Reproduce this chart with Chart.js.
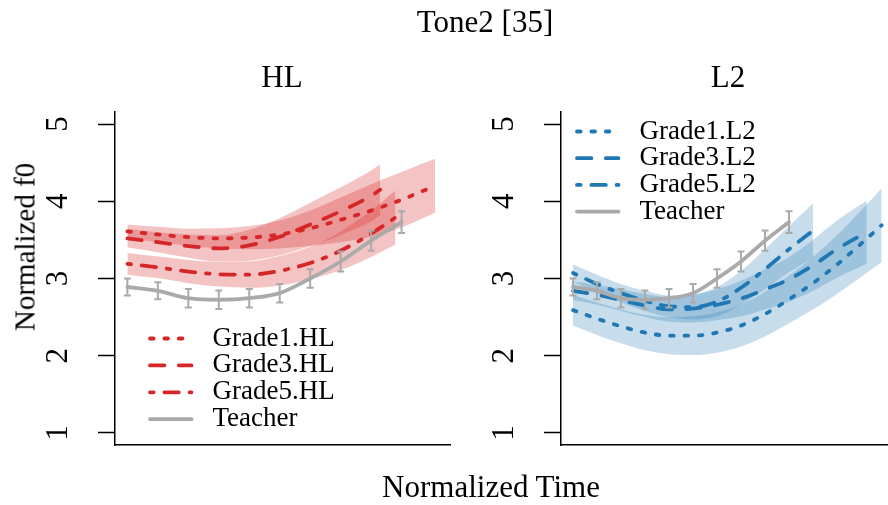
<!DOCTYPE html>
<html>
<head>
    <title>Tone2 [35]</title>
    <script src="https://cdn.jsdelivr.net/npm/chart.js"></script>
    <style>
        body { margin: 0; background: #fff; overflow: hidden; }
        #page { position: relative; width: 888px; height: 505px; font-family: "Liberation Serif", serif; color: #000; }
        canvas { position: absolute; top: 0; }
        #hlChart { left: 0; }
        #l2Chart { left: 455px; }
        .txt { position: absolute; white-space: nowrap; transform: translateX(-50%); }
        .big { font-size: 31px; line-height: 31px; }
        #mainTitle { left: 485px; top: 6px; }
        #hlTitle { left: 282px; top: 61px; }
        #l2Title { left: 728px; top: 61px; }
        #xTitle { left: 491px; top: 471px; }
        #yTitle { left: 25px; top: 247px; font-size: 29px; line-height: 29px; transform: translate(-50%, -50%) rotate(-90deg); }
    </style>
</head>
<body>
<div id="page">
    <canvas id="hlChart" width="455" height="505"></canvas>
    <canvas id="l2Chart" width="433" height="505"></canvas>
    <div id="mainTitle" class="txt big">Tone2 [35]</div>
    <div id="hlTitle" class="txt big">HL</div>
    <div id="l2Title" class="txt big">L2</div>
    <div id="xTitle" class="txt big">Normalized Time</div>
    <div id="yTitle" class="txt">Normalized f0</div>
</div>

<script>
    // y axis ticks (shared)
    const yTicks = [1, 2, 3, 4, 5];

    // Teacher contour (same in both panels), with standard errors
    const teacherTime = [1, 2, 3, 4, 5, 6, 7, 8, 9, 10];
    const teacherF0 = [2.89, 2.84, 2.745, 2.725, 2.745, 2.81, 3.00, 3.22, 3.49, 3.73];
    const teacherSe = [0.11, 0.11, 0.12, 0.12, 0.12, 0.12, 0.12, 0.13, 0.13, 0.14];

    // HL panel
    const hlG1Time = [1, 2, 3, 4, 5, 6, 7, 8, 9, 10, 11.1];
    const hlG1F0 = [3.61, 3.57, 3.535, 3.52, 3.53, 3.57, 3.65, 3.76, 3.88, 4.02, 4.20];
    const hlG1Se = [0.09, 0.10, 0.11, 0.13, 0.15, 0.18, 0.23, 0.29, 0.34, 0.36, 0.35];

    const hlG3Time = [1, 2, 3, 4, 5, 6, 7, 8, 9, 9.3];
    const hlG3F0 = [3.52, 3.47, 3.42, 3.39, 3.43, 3.54, 3.70, 3.87, 4.07, 4.15];
    const hlG3Se = [0.12, 0.13, 0.15, 0.17, 0.20, 0.24, 0.28, 0.31, 0.33, 0.33];

    const hlG5Time = [1, 2, 3, 4, 5, 6, 7, 8, 9, 9.8];
    const hlG5F0 = [3.19, 3.145, 3.09, 3.055, 3.05, 3.10, 3.20, 3.36, 3.58, 3.79];
    const hlG5Se = [0.14, 0.14, 0.15, 0.16, 0.17, 0.19, 0.21, 0.25, 0.30, 0.35];

    // L2 panel
    const l2G1Time = [1, 2, 3, 4, 5, 6, 7, 8, 9, 10, 11, 12, 13, 13.86];
    const l2G1F0 = [2.59, 2.48, 2.38, 2.30, 2.26, 2.26, 2.30, 2.39, 2.54, 2.73, 2.94, 3.18, 3.45, 3.69];
    const l2G1Se = [0.20, 0.21, 0.22, 0.23, 0.24, 0.25, 0.26, 0.27, 0.29, 0.31, 0.34, 0.38, 0.43, 0.48];

    const l2G3Time = [1, 2, 3, 4, 5, 6, 7, 8, 9, 10, 11, 12, 13.24];
    const l2G3F0 = [2.84, 2.79, 2.72, 2.65, 2.60, 2.61, 2.66, 2.74, 2.86, 2.99, 3.17, 3.38, 3.60];
    const l2G3Se = [0.12, 0.13, 0.14, 0.15, 0.16, 0.18, 0.20, 0.23, 0.26, 0.29, 0.33, 0.37, 0.41];

    const l2G5Time = [1, 2, 3, 4, 5, 6, 7, 8, 9, 10, 11];
    const l2G5F0 = [3.07, 2.93, 2.81, 2.71, 2.64, 2.63, 2.70, 2.88, 3.12, 3.38, 3.62];
    const l2G5Se = [0.11, 0.12, 0.12, 0.13, 0.14, 0.16, 0.19, 0.22, 0.26, 0.30, 0.35];

    const RED = '#d62728', RED_BAND = 'rgba(214,39,40,0.28)';
    const BLUE = '#1f77b4', BLUE_BAND = 'rgba(31,119,180,0.25)';
    const GREY = '#aaaaaa';
    const LW = 3.8;
    const U = 3.6; // R dash unit
    const DOTTED = [U, 3 * U], DASHED = [4 * U, 4 * U], DOTDASH = [U, 3 * U, 4 * U, 3 * U];

    Chart.defaults.font.family = '"Liberation Serif"';

    function pts(time, vals) {
        return time.map((t, i) => ({ x: t, y: vals[i] }));
    }

    function studentSets(time, f0, se, label, color, band, dash) {
        const hi = f0.map((v, i) => v + se[i]);
        const lo = f0.map((v, i) => v - se[i]);
        const common = { pointRadius: 0, cubicInterpolationMode: 'monotone' };
        return {
            bands: [
                { ...common, data: pts(time, hi), borderWidth: 0, borderColor: 'rgba(0,0,0,0)', fill: false, order: 2 },
                { ...common, data: pts(time, lo), borderWidth: 0, borderColor: 'rgba(0,0,0,0)', backgroundColor: band, fill: '-1', order: 2 }
            ],
            line: { ...common, label: label, data: pts(time, f0), borderColor: color, borderWidth: LW,
                    borderDash: dash, borderCapStyle: 'round', fill: false, order: 1, inLegend: true }
        };
    }

    function teacherSet() {
        return { label: 'Teacher', data: pts(teacherTime, teacherF0), borderColor: GREY, borderWidth: LW,
                 pointRadius: 0, cubicInterpolationMode: 'monotone', borderCapStyle: 'round',
                 fill: false, order: 0, inLegend: true, errorBars: teacherSe };
    }

    const errorBarPlugin = {
        id: 'errorBars',
        afterDatasetsDraw(chart) {
            const { ctx, scales: { x, y } } = chart;
            chart.data.datasets.forEach(ds => {
                if (!ds.errorBars) return;
                ctx.save();
                ctx.strokeStyle = ds.borderColor;
                ctx.lineWidth = 2;
                ds.data.forEach((p, i) => {
                    const px = x.getPixelForValue(p.x);
                    const top = y.getPixelForValue(p.y + ds.errorBars[i]);
                    const bot = y.getPixelForValue(p.y - ds.errorBars[i]);
                    ctx.beginPath();
                    ctx.moveTo(px, top); ctx.lineTo(px, bot);
                    ctx.moveTo(px - 3.5, top); ctx.lineTo(px + 3.5, top);
                    ctx.moveTo(px - 3.5, bot); ctx.lineTo(px + 3.5, bot);
                    ctx.stroke();
                });
                ctx.restore();
            });
        }
    };

    // R-style legend: line sample + label, no box
    const lineLegendPlugin = {
        id: 'lineLegend',
        afterDraw(chart, args, opts) {
            const ctx = chart.ctx;
            const items = chart.data.datasets.filter(ds => ds.inLegend);
            ctx.save();
            ctx.font = opts.fontSize + 'px "Liberation Serif"';
            ctx.textBaseline = 'middle';
            ctx.fillStyle = '#000';
            items.forEach((ds, i) => {
                const yy = opts.top + i * opts.rowStep;
                ctx.setLineDash(ds.borderDash || []);
                ctx.lineCap = 'round';
                ctx.lineWidth = ds.borderWidth;
                ctx.strokeStyle = ds.borderColor;
                ctx.beginPath();
                ctx.moveTo(opts.lineStart, yy);
                ctx.lineTo(opts.lineEnd, yy);
                ctx.stroke();
                ctx.setLineDash([]);
                ctx.fillText(ds.label, opts.textStart, yy);
            });
            ctx.restore();
        }
    };

    function makePanel(canvasId, series, xMin, xMax, axisWidth, padRight, legend) {
        const datasets = [];
        series.forEach(s => datasets.push(...s.bands));
        series.forEach(s => datasets.push(s.line));
        datasets.push(teacherSet());

        new Chart(document.getElementById(canvasId), {
            type: 'line',
            data: { datasets: datasets },
            options: {
                responsive: false,
                animation: false,
                devicePixelRatio: 1,
                layout: { padding: { top: 112, bottom: 60, left: 0, right: padRight } },
                scales: {
                    x: {
                        type: 'linear', min: xMin, max: xMax,
                        ticks: { display: false },
                        grid: { display: false },
                        border: { display: true, color: '#000', width: 1.5 },
                        afterFit: s => { s.height = 0; }
                    },
                    y: {
                        type: 'linear', min: 0.844, max: 5.156,
                        afterBuildTicks: s => { s.ticks = yTicks.map(v => ({ value: v })); },
                        ticks: { color: '#000', font: { size: 31 }, minRotation: 90, maxRotation: 90,
                                 crossAlign: 'center', padding: 31 },
                        grid: { display: true, drawOnChartArea: false, tickLength: 17, tickColor: '#000', tickWidth: 1.5 },
                        border: { display: true, color: '#000', width: 1.5 },
                        afterFit: s => { s.width = axisWidth; }
                    }
                },
                plugins: {
                    legend: { display: false },
                    tooltip: { enabled: false },
                    title: { display: false },
                    filler: { propagate: false },
                    lineLegend: legend
                }
            },
            plugins: [errorBarPlugin, lineLegendPlugin]
        });
    }

    makePanel('hlChart', [
        studentSets(hlG1Time, hlG1F0, hlG1Se, 'Grade1.HL', RED, RED_BAND, DOTTED),
        studentSets(hlG3Time, hlG3F0, hlG3Se, 'Grade3.HL', RED, RED_BAND, DASHED),
        studentSets(hlG5Time, hlG5F0, hlG5Se, 'Grade5.HL', RED, RED_BAND, DOTDASH)
    ], 0.593, 11.59, 115, 5,
    { fontSize: 27, top: 338.5, rowStep: 26.9, lineStart: 150, lineEnd: 191.5, textStart: 212.5 });

    makePanel('l2Chart', [
        studentSets(l2G1Time, l2G1F0, l2G1Se, 'Grade1.L2', BLUE, BLUE_BAND, DOTTED),
        studentSets(l2G3Time, l2G3F0, l2G3Se, 'Grade3.L2', BLUE, BLUE_BAND, DASHED),
        studentSets(l2G5Time, l2G5F0, l2G5Se, 'Grade5.L2', BLUE, BLUE_BAND, DOTDASH)
    ], 0.5, 14.125, 106, 0,
    { fontSize: 27, top: 131.5, rowStep: 26.7, lineStart: 122, lineEnd: 163.5, textStart: 184.5 });
</script>
</body>
</html>
